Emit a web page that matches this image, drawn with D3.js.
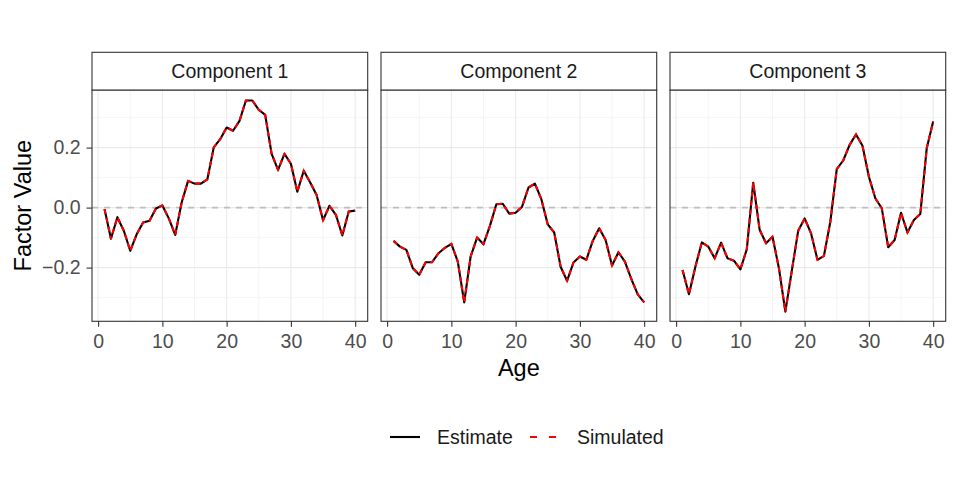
<!DOCTYPE html>
<html><head><meta charset="utf-8">
<script src="https://cdn.jsdelivr.net/npm/d3@7"></script>
<style>body{margin:0;background:#fff}svg{display:block;font-family:"Liberation Sans",Arial,sans-serif}</style>
</head><body><svg id="c" width="959" height="480"></svg>
<script>
const ages = d3.range(1, 41);
const components = ["Component 1", "Component 2", "Component 3"];
const estimate1 = [-0.005,-0.104,-0.032,-0.077,-0.144,-0.089,-0.050,-0.044,-0.003,0.007,-0.036,-0.091,0.017,0.089,0.080,0.080,0.094,0.201,0.228,0.267,0.256,0.289,0.357,0.357,0.326,0.309,0.179,0.126,0.179,0.146,0.053,0.123,0.084,0.042,-0.042,0.006,-0.024,-0.093,-0.013,-0.010];
const estimate2 = [-0.111,-0.130,-0.141,-0.202,-0.224,-0.182,-0.182,-0.152,-0.134,-0.121,-0.180,-0.316,-0.163,-0.100,-0.122,-0.061,0.011,0.013,-0.020,-0.017,0.003,0.067,0.080,0.028,-0.056,-0.083,-0.197,-0.244,-0.183,-0.163,-0.174,-0.111,-0.069,-0.108,-0.193,-0.149,-0.180,-0.238,-0.289,-0.316];
const estimate3 = [-0.208,-0.289,-0.197,-0.116,-0.130,-0.169,-0.117,-0.169,-0.177,-0.206,-0.139,0.083,-0.074,-0.119,-0.097,-0.202,-0.347,-0.211,-0.077,-0.036,-0.086,-0.174,-0.161,-0.047,0.128,0.157,0.209,0.244,0.206,0.103,0.031,-0.002,-0.132,-0.108,-0.017,-0.083,-0.041,-0.021,0.198,0.287];
const simulated1 = [-0.005,-0.104,-0.032,-0.077,-0.144,-0.089,-0.050,-0.044,-0.003,0.007,-0.036,-0.091,0.017,0.089,0.080,0.080,0.094,0.201,0.228,0.267,0.256,0.289,0.357,0.357,0.326,0.309,0.179,0.126,0.179,0.146,0.053,0.123,0.084,0.042,-0.042,0.006,-0.024,-0.093,-0.013,-0.010];
const simulated2 = [-0.111,-0.130,-0.141,-0.202,-0.224,-0.182,-0.182,-0.152,-0.134,-0.121,-0.180,-0.316,-0.163,-0.100,-0.122,-0.061,0.011,0.013,-0.020,-0.017,0.003,0.067,0.080,0.028,-0.056,-0.083,-0.197,-0.244,-0.183,-0.163,-0.174,-0.111,-0.069,-0.108,-0.193,-0.149,-0.180,-0.238,-0.289,-0.316];
const simulated3 = [-0.208,-0.289,-0.197,-0.116,-0.130,-0.169,-0.117,-0.169,-0.177,-0.206,-0.139,0.083,-0.074,-0.119,-0.097,-0.202,-0.347,-0.211,-0.077,-0.036,-0.086,-0.174,-0.161,-0.047,0.128,0.157,0.209,0.244,0.206,0.103,0.031,-0.002,-0.132,-0.108,-0.017,-0.083,-0.041,-0.021,0.198,0.287];
const xTicks = [0, 10, 20, 30, 40];
const xMinor = [5, 15, 25, 35];
const yTicks = [-0.2, 0.0, 0.2];
const yMinor = [-0.3, -0.1, 0.1, 0.3];
const legendLabels = ["Estimate", "Simulated"];

const estimates = [estimate1, estimate2, estimate3];
const simulateds = [simulated1, simulated2, simulated3];

const svg = d3.select("#c");
const panelLefts = [92, 381, 670];
const panelW = 275.7;
const pTop = 90, pBottom = 321.3;
const stripTop = 52.3;
const FS = 19.5, TFS = 23.5;

const x0 = d3.scaleLinear().domain([-0.95, 41.95]).range([0, panelW]);
const y = d3.scaleLinear().domain([-0.379, 0.392]).range([pBottom, pTop]);

components.forEach((name, i) => {
  const g = svg.append("g").attr("transform", `translate(${panelLefts[i]},0)`);
  g.selectAll(".xmin").data(xMinor).enter().append("line")
    .attr("x1", d => x0(d)).attr("x2", d => x0(d)).attr("y1", pTop).attr("y2", pBottom)
    .attr("stroke", "#ebebeb").attr("stroke-width", 0.55);
  g.selectAll(".ymin").data(yMinor).enter().append("line")
    .attr("x1", 0).attr("x2", panelW).attr("y1", d => y(d)).attr("y2", d => y(d))
    .attr("stroke", "#ebebeb").attr("stroke-width", 0.55);
  g.selectAll(".xmaj").data(xTicks).enter().append("line")
    .attr("x1", d => x0(d)).attr("x2", d => x0(d)).attr("y1", pTop).attr("y2", pBottom)
    .attr("stroke", "#ebebeb").attr("stroke-width", 1.1);
  g.selectAll(".ymaj").data(yTicks).enter().append("line")
    .attr("x1", 0).attr("x2", panelW).attr("y1", d => y(d)).attr("y2", d => y(d))
    .attr("stroke", "#ebebeb").attr("stroke-width", 1.1);
  g.append("line").attr("x1", 0).attr("x2", panelW).attr("y1", y(0)).attr("y2", y(0))
    .attr("stroke", "#bebebe").attr("stroke-width", 1.6).attr("stroke-dasharray", "6,6");
  const line = d3.line().x((d, j) => x0(ages[j])).y(d => y(d));
  g.append("path").attr("d", line(estimates[i])).attr("fill", "none")
    .attr("stroke", "#000").attr("stroke-width", 2.1).attr("stroke-linejoin", "round");
  g.append("path").attr("d", line(simulateds[i])).attr("fill", "none")
    .attr("stroke", "#ff0000").attr("stroke-width", 2.1).attr("stroke-dasharray", "5,4");
  g.append("rect").attr("x", 0).attr("y", pTop).attr("width", panelW).attr("height", pBottom - pTop)
    .attr("fill", "none").attr("stroke", "#333").attr("stroke-width", 1.1);
  g.append("rect").attr("x", 0).attr("y", stripTop).attr("width", panelW).attr("height", pTop - stripTop)
    .attr("fill", "#fff").attr("stroke", "#333").attr("stroke-width", 1.1);
  g.append("text").attr("x", panelW / 2).attr("y", (stripTop + pTop) / 2).attr("dy", "0.36em")
    .attr("text-anchor", "middle").attr("font-size", FS).attr("fill", "#1a1a1a").text(name);
  const xa = g.append("g").attr("transform", `translate(0,${pBottom})`)
    .call(d3.axisBottom(x0).tickValues(xTicks).tickSize(5.5).tickPadding(7).tickFormat(d3.format("d")));
  xa.select(".domain").remove();
  xa.selectAll("line").attr("stroke", "#333").attr("stroke-width", 1.1);
  xa.selectAll("text").attr("fill", "#4d4d4d").attr("font-size", FS).attr("font-family", "Liberation Sans, Arial, sans-serif");
  if (i === 0) {
    const ya = g.append("g").call(d3.axisLeft(y).tickValues(yTicks).tickSize(5.5).tickPadding(6).tickFormat(d => d === 0 ? "0.0" : d3.format(".1f")(d).replace("-", "\u2212")));
    ya.select(".domain").remove();
    ya.selectAll("line").attr("stroke", "#333").attr("stroke-width", 1.1);
    ya.selectAll("text").attr("fill", "#4d4d4d").attr("font-size", FS).attr("font-family", "Liberation Sans, Arial, sans-serif");
  }
});

svg.append("text").attr("x", (panelLefts[0] + panelLefts[2] + panelW) / 2).attr("y", 376)
  .attr("text-anchor", "middle").attr("font-size", TFS).attr("fill", "#000").text("Age");
svg.append("text").attr("transform", `translate(31,${(pTop + pBottom) / 2}) rotate(-90)`)
  .attr("text-anchor", "middle").attr("font-size", TFS).attr("fill", "#000").text("Factor Value");

const lg = svg.append("g");
lg.append("line").attr("x1", 390).attr("x2", 420).attr("y1", 437).attr("y2", 437)
  .attr("stroke", "#000").attr("stroke-width", 2.1);
lg.append("text").attr("x", 437).attr("y", 437).attr("dy", "0.36em").attr("font-size", FS).attr("fill", "#1a1a1a").text(legendLabels[0]);
lg.append("line").attr("x1", 530).attr("x2", 559).attr("y1", 437).attr("y2", 437)
  .attr("stroke", "#ff0000").attr("stroke-width", 2.1).attr("stroke-dasharray", "7,12");
lg.append("text").attr("x", 577).attr("y", 437).attr("dy", "0.36em").attr("font-size", FS).attr("fill", "#1a1a1a").text(legendLabels[1]);
</script></body></html>
